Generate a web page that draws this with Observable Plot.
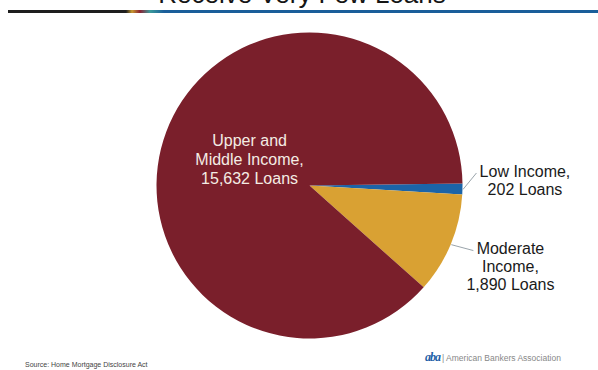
<!DOCTYPE html>
<html><head><meta charset="utf-8">
<script src="https://cdn.jsdelivr.net/npm/d3@7"></script>
<script src="https://cdn.jsdelivr.net/npm/@observablehq/plot@0.6"></script>
<style>
body{margin:0;background:#fff;font-family:"Liberation Sans",Arial,sans-serif;width:598px;height:370px;overflow:hidden;position:relative}
#chart{position:absolute;left:0;top:0}
#title{position:absolute;left:0;width:604px;text-align:center;top:-19px;font-size:26px;line-height:26px;color:#151515;white-space:nowrap}
#rule{position:absolute;top:10px;left:8px;right:0;height:3px;background:linear-gradient(to right,#1e1e1e 0,#1e1e1e 118px,#c89a30 124px,#8a2032 132px,#3a9a9a 142px,#1a5e9a 156px,#1a5e9a 100%)}
#source{position:absolute;left:25px;top:361px;font-size:7px;color:#444;white-space:nowrap}
#aba{position:absolute;left:425px;top:350px;font-size:8.5px;color:#888;white-space:nowrap}
#aba b{font-family:"Liberation Serif",serif;font-style:italic;color:#1f5fa8;font-size:12px;letter-spacing:-1px;margin-right:2px}
</style></head>
<body>
<div id="chart"></div>
<div id="title">Receive Very Few Loans</div>
<div id="rule"></div>
<div id="source">Source: Home Mortgage Disclosure Act</div>
<div id="aba"><b>aba</b>| American Bankers Association</div>
<script>
// data
const categories = ["Low Income", "Moderate Income", "Upper and Middle Income"];
const loans = [202, 1890, 15632];
const labels = ["Low Income,\n202 Loans", "Moderate\nIncome,\n1,890 Loans", "Upper and\nMiddle Income,\n15,632 Loans"];
const colors = ["#1b64a8", "#d9a133", "#7a1f2b"];

const rows = categories.map((c, i) => ({category: c, value: loans[i], label: labels[i]}));

// layout (pie units: center 0,0 radius 1)
const W = 598, H = 370, CX = 309.5, CY = 185.5, R = 153;
const startDeg = 89.25;
const start = startDeg * Math.PI / 180;
const arcs = d3.pie().sort(null).value(d => d.value).startAngle(start).endAngle(start + 2 * Math.PI)(rows);
const mid = a => (a.startAngle + a.endAngle) / 2;

const labelPos = [
  {x: 1.405, y: 0.036, fill: "#1a1a1a", lh: 1.125},
  {x: 1.31, y: -0.526, fill: "#1a1a1a", lh: 1.125},
  {x: -0.395, y: 0.18, fill: "#f4ece4", lh: 1.19}
];
const labelRows = rows.map((d, i) => ({...d, ...labelPos[i]}));

const leaderEnds = [{x: 1.088, y: 0.085}, {x: 1.068, y: -0.422}];
const leaders = leaderEnds.map((e, i) => ({
  x1: Math.sin(mid(arcs[i])), y1: Math.cos(mid(arcs[i])), x2: e.x, y2: e.y
}));

const pie = Plot.dot(rows, {
  x: () => 0, y: () => 0, fill: "category",
  render: (index, scales, values) => {
    const r = scales.x(1) - scales.x(0);
    const g = d3.create("svg:g");
    const arc = d3.arc().innerRadius(0).outerRadius(r);
    for (const i of index) {
      g.append("path")
        .attr("transform", `translate(${values.x[i]},${values.y[i]})`)
        .attr("d", arc(arcs[i]))
        .attr("fill", values.fill[i]);
    }
    return g.node();
  }
});

const chart = Plot.plot({
  width: W, height: H, margin: 0,
  x: {domain: [-CX / R, (W - CX) / R], axis: null},
  y: {domain: [-(H - CY) / R, CY / R], axis: null},
  color: {domain: categories, range: colors},
  style: {fontFamily: "'Liberation Sans', Arial, sans-serif", background: "transparent"},
  marks: [
    pie,
    Plot.link(leaders, {x1: "x1", y1: "y1", x2: "x2", y2: "y2", stroke: "#9aa4ab", strokeWidth: 1}),
    ...labelRows.map(d => Plot.text([d], {x: "x", y: "y", text: "label", fill: d.fill, fontSize: 16, lineHeight: d.lh, textAnchor: "middle"}))
  ]
});
document.getElementById("chart").appendChild(chart);
</script>
</body></html>
